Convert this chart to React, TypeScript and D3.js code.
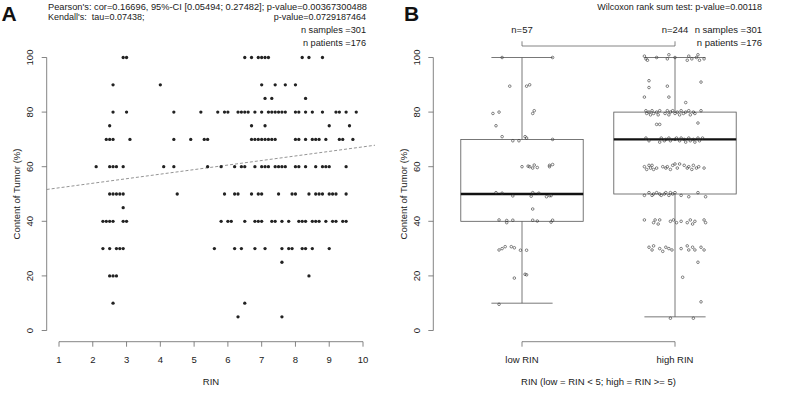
import React from "react";
import * as d3 from "d3";

// Panel A: tumor content rows, each with the RIN values of the samples on that row
const tumorRows = [100, 90, 85, 80, 75, 70, 60, 50, 45, 40, 30, 25, 20, 10, 5];
const rinByRow = [
  [2.9, 3.0, 6.5, 6.7, 6.9, 7.0, 7.1, 7.2, 8.2, 8.4, 8.8],
  [2.6, 4.0, 7.0, 7.4, 7.7, 8.0],
  [7.1, 7.3, 8.3],
  [2.6, 3.0, 4.4, 5.2, 5.7, 5.9, 6.0, 6.3, 6.4, 6.5, 6.6, 6.8, 7.0, 7.2, 7.3, 7.4, 7.5, 7.6, 7.7, 8.0, 8.1, 8.3, 8.5, 8.8, 9.2, 9.3, 9.5, 9.8],
  [2.5, 6.7, 7.1, 9.0, 9.6],
  [2.4, 2.5, 2.6, 3.1, 4.4, 4.9, 5.3, 5.4, 6.7, 6.8, 6.9, 7.0, 7.1, 7.2, 7.3, 7.4, 8.0, 8.1, 8.3, 8.5, 8.6, 8.7, 8.9, 9.3, 9.4, 9.7],
  [2.1, 2.5, 2.6, 2.7, 2.9, 4.1, 4.4, 5.4, 5.8, 6.2, 6.4, 6.5, 6.8, 7.0, 7.1, 7.2, 7.4, 7.5, 7.6, 7.7, 8.0, 8.1, 8.3, 8.6, 8.8, 8.9, 9.0, 9.5],
  [2.5, 2.6, 2.7, 2.8, 2.9, 4.5, 5.9, 6.2, 6.3, 6.7, 6.9, 7.0, 7.5, 7.9, 8.0, 8.4, 8.6, 8.7, 8.8, 9.0, 9.1, 9.2, 9.5],
  [2.9],
  [2.3, 2.4, 2.5, 2.6, 2.9, 3.0, 5.8, 6.0, 6.1, 6.5, 6.8, 6.9, 7.0, 7.3, 7.4, 7.6, 7.8, 8.1, 8.2, 8.3, 8.5, 8.6, 8.7, 8.9, 9.1, 9.2, 9.4, 9.5],
  [2.3, 2.5, 2.7, 2.8, 2.9, 5.6, 6.2, 6.4, 6.8, 7.1, 7.6, 7.8, 7.9, 8.2, 8.3, 8.5, 9.0],
  [7.6],
  [2.5, 2.6, 2.7, 8.4],
  [2.6, 6.5],
  [6.3, 7.6],
];

// fitted line: tumor = intercept + slope * RIN
const regIntercept = 50.6;
const regSlope = 1.667;

const rinTicks = [1, 2, 3, 4, 5, 6, 7, 8, 9, 10];
const tumorTicks = [0, 20, 40, 60, 80, 100];

const statsA = [
  "Pearson's: cor=0.16696, 95%-CI [0.05494; 0.27482]; p-value=0.00367300488",
  "Kendall's:  tau=0.07438;",
  "p-value=0.0729187464",
  "n samples =301",
  "n patients =176",
];

// Panel B
const groups = ["low RIN", "high RIN"];
const groupN = ["n=57", "n=244"];
const boxMin = [10, 5];
const boxQ1 = [40, 50];
const boxMedian = [50, 70];
const boxQ3 = [70, 80];
const boxMax = [100, 100];

// jittered points: [offset from group centre, tumor content]
const lowRinPoints = [
  [-0.13, 100], [0.2, 100], [-0.08, 89.5], [0.03, 89.5], [0.05, 90], [-0.19, 79.5], [-0.15, 80],
  [0.07, 79.5], [0.08, 80.5], [-0.17, 75], [-0.13, 71], [-0.06, 69.5], [-0.02, 69.5], [0.02, 71],
  [0.03, 70.5], [0.2, 70], [0.0, 60], [0.04, 60.2], [0.05, 60], [0.07, 59.5], [0.08, 60.6],
  [0.1, 59.7], [0.18, 60], [0.18, 60.5], [0.2, 60.8], [-0.17, 50.5], [-0.13, 50.3], [-0.06, 49.3],
  [0.06, 49.2], [0.07, 50.5], [0.11, 50.3], [0.16, 49], [0.18, 49.4], [0.19, 49.4], [0.07, 44.5],
  [-0.15, 40.5], [-0.1, 40.3], [-0.1, 39.5], [-0.06, 40.4], [0.07, 40.4], [0.1, 40.1], [0.19, 39.7],
  [0.2, 40.4], [-0.15, 29.5], [-0.13, 30], [-0.11, 30.7], [-0.07, 30.7], [-0.05, 30.3], [-0.01, 29.4],
  [0.03, 29.4], [-0.05, 19.2], [0.02, 20.6], [0.03, 20.4], [-0.15, 9.6],
];

const highRinPoints = [
  [-0.2, 100.5], [-0.19, 99.5], [-0.18, 99], [-0.12, 100], [-0.05, 99.5], [-0.04, 101], [0, 100],
  [0.08, 99], [0.09, 100.5], [0.11, 99.5], [0.14, 100], [0.15, 101], [0.16, 99], [0.19, 99.5],
  [-0.17, 91.5], [-0.17, 89], [-0.05, 89.5], [0.17, 91],
  [-0.2, 85.5], [-0.04, 85.5], [0.07, 83.5],
  [-0.19, 80.5], [-0.185, 79.5], [-0.17, 80], [-0.16, 79], [-0.15, 80.5], [-0.14, 79.5], [-0.12, 80],
  [-0.11, 79], [-0.1, 80.5], [-0.065, 79.5], [-0.05, 80.5], [-0.04, 79], [-0.03, 80], [-0.015, 80.5],
  [0, 79.5], [0.015, 80], [0.03, 79], [0.04, 80.5], [0.055, 79.5], [0.07, 80], [0.09, 80.5],
  [0.1, 79], [0.12, 80], [0.13, 79.5], [0.17, 80.5],
  [-0.12, 75.5], [-0.1, 75.5], [0.15, 76],
  [-0.19, 70.5], [-0.17, 69.5], [-0.1, 69], [-0.09, 70.5], [-0.07, 69.5], [-0.06, 70], [-0.04, 70.5],
  [-0.03, 69.5], [0, 70], [0.01, 70.5], [0.03, 69.5], [0.04, 70.5], [0.06, 70], [0.07, 69],
  [0.09, 70.5], [0.1, 69.5], [0.12, 70], [0.13, 69], [0.15, 70.5], [0.16, 69.5], [0.18, 70.5],
  [-0.2, 60], [-0.185, 59], [-0.17, 60.5], [-0.16, 59.5], [-0.15, 60.5], [-0.14, 59], [-0.12, 59.5],
  [-0.08, 60], [-0.06, 59.5], [-0.05, 60], [-0.03, 59], [-0.015, 60.5], [0, 61], [0.015, 59.5],
  [0.03, 61], [0.06, 60.5], [0.08, 59.5], [0.09, 60], [0.11, 59], [0.12, 60.5], [0.14, 59.5],
  [0.155, 60], [0.19, 59.5],
  [-0.2, 49.5], [-0.17, 50.5], [-0.15, 49.5], [-0.14, 50], [-0.12, 50.5], [-0.1, 50], [-0.09, 49.5],
  [-0.07, 50], [-0.06, 50.5], [-0.04, 49.5], [-0.03, 50.5], [-0.015, 50], [0, 50.5], [0.04, 49.5],
  [0.09, 49], [0.15, 50.5], [0.2, 49],
  [-0.2, 40.5], [-0.14, 39.5], [-0.13, 40.5], [-0.11, 39], [-0.1, 40.5], [-0.03, 40], [-0.01, 40.5],
  [0.01, 39.5], [0.04, 40], [0.08, 39.5], [0.1, 40.5], [0.115, 39], [0.13, 40], [0.19, 40.5], [0.2, 39.5],
  [-0.17, 30.5], [-0.15, 29.5], [-0.14, 31], [-0.1, 30], [-0.08, 29], [-0.06, 30.5], [-0.04, 30],
  [-0.02, 29.5], [0.04, 30], [0.08, 31], [0.09, 29.5], [0.115, 30.5], [0.13, 29.5], [0.17, 30.5],
  [0.19, 29.5],
  [0.15, 25], [0.05, 19.5], [0.17, 10.5], [-0.03, 4.5], [0.12, 4.5],
];

const statsB = ["Wilcoxon rank sum test: p-value=0.00118", "n samples =301", "n patients =176"];

const FONT = "'Liberation Sans', Arial, Helvetica, sans-serif";
const TXT = "#1a1a1a";
const AX = "#666";

export default function App() {
  const y = d3.scaleLinear().domain([0, 100]).range([330.5, 57.5]);
  const xA = d3.scaleLinear().domain([1, 10]).range([59, 363]);
  const xB = d3.scaleLinear().domain([1, 2]).range([522, 675]);

  const axA = 46.7;
  const axB = 433.3;
  const xAxisY = 341.7;
  const regX0 = xA.invert(axA);
  const regX1 = xA.invert(375);

  const scatter = tumorRows.flatMap((t, i) => rinByRow[i].map((r) => [r, t]));
  const boxW = (xB(2) - xB(1)) * 0.4;

  const yAxis = (ax: number) => (
    <g>
      <line x1={ax} x2={ax} y1={y(100)} y2={y(0)} stroke={AX} strokeWidth={0.8} />
      {tumorTicks.map((t) => (
        <g key={t}>
          <line x1={ax - 5} x2={ax} y1={y(t)} y2={y(t)} stroke={AX} strokeWidth={0.8} />
          <text
            transform={`translate(${ax - 13.5},${y(t)}) rotate(-90)`}
            textAnchor="middle"
            fontSize={9.5}
            fill={TXT}
          >
            {t}
          </text>
        </g>
      ))}
      <text
        transform={`translate(${ax - 26.5},${(y(0) + y(100)) / 2}) rotate(-90)`}
        textAnchor="middle"
        fontSize={9.5}
        fill={TXT}
      >
        Content of Tumor (%)
      </text>
    </g>
  );

  return (
    <svg
      width={787}
      height={400}
      style={{ position: "absolute", left: 0, top: 0, background: "#fff" }}
      fontFamily={FONT}
    >
      {/* Panel A */}
      <text x={1.5} y={20.5} fontSize={21} fontWeight="bold" fill="#111">A</text>
      <text x={48} y={9.8} fontSize={9} fill={TXT} textLength={319} lengthAdjust="spacingAndGlyphs">
        {statsA[0]}
      </text>
      <text x={48} y={20.3} fontSize={9} fill={TXT} style={{ whiteSpace: "pre" }}>{statsA[1]}</text>
      <text x={366} y={20.3} fontSize={9} fill={TXT} textAnchor="end">{statsA[2]}</text>
      <text x={366} y={33.3} fontSize={9.2} fill={TXT} textAnchor="end">{statsA[3]}</text>
      <text x={366} y={46} fontSize={9.2} fill={TXT} textAnchor="end">{statsA[4]}</text>

      {yAxis(axA)}
      <line x1={xA(1)} x2={xA(10)} y1={xAxisY} y2={xAxisY} stroke={AX} strokeWidth={0.8} />
      {rinTicks.map((t) => (
        <g key={t}>
          <line x1={xA(t)} x2={xA(t)} y1={xAxisY} y2={xAxisY + 5} stroke={AX} strokeWidth={0.8} />
          <text x={xA(t)} y={362.7} textAnchor="middle" fontSize={9.5} fill={TXT}>{t}</text>
        </g>
      ))}
      <text x={xA(5.5)} y={385} textAnchor="middle" fontSize={9.5} fill={TXT}>RIN</text>

      <line
        x1={xA(regX0)}
        x2={xA(regX1)}
        y1={y(regIntercept + regSlope * regX0)}
        y2={y(regIntercept + regSlope * regX1)}
        stroke="#888"
        strokeWidth={0.9}
        strokeDasharray="3 2"
      />
      {scatter.map(([r, t], i) => (
        <circle key={i} cx={xA(r)} cy={y(t)} r={1.65} fill="#222" />
      ))}

      {/* Panel B */}
      <text x={404} y={20.5} fontSize={21} fontWeight="bold" fill="#111">B</text>
      <text x={762} y={9.8} fontSize={9} fill={TXT} textAnchor="end">{statsB[0]}</text>
      <text x={762} y={33.3} fontSize={9.5} fill={TXT} textAnchor="end">{statsB[1]}</text>
      <text x={762} y={46} fontSize={9.5} fill={TXT} textAnchor="end">{statsB[2]}</text>
      {groupN.map((n, i) => (
        <text key={n} x={xB(i + 1)} y={33.3} fontSize={9.5} fill={TXT} textAnchor="middle">{n}</text>
      ))}
      <line x1={xB(1)} x2={xB(2)} y1={46} y2={46} stroke={AX} strokeWidth={0.8} />
      {groups.map((g, i) => (
        <line key={g} x1={xB(i + 1)} x2={xB(i + 1)} y1={41.3} y2={46} stroke={AX} strokeWidth={0.8} />
      ))}

      {yAxis(axB)}

      {groups.map((g, i) => {
        const cx = xB(i + 1);
        return (
          <g key={g}>
            <line x1={cx} x2={cx} y1={y(boxQ3[i])} y2={y(boxMax[i])} stroke="#555" strokeWidth={0.8} />
            <line x1={cx} x2={cx} y1={y(boxQ1[i])} y2={y(boxMin[i])} stroke="#555" strokeWidth={0.8} />
            <line x1={cx - boxW / 2} x2={cx + boxW / 2} y1={y(boxMax[i])} y2={y(boxMax[i])} stroke="#555" strokeWidth={0.8} />
            <line x1={cx - boxW / 2} x2={cx + boxW / 2} y1={y(boxMin[i])} y2={y(boxMin[i])} stroke="#555" strokeWidth={0.8} />
            <rect
              x={cx - boxW}
              y={y(boxQ3[i])}
              width={boxW * 2}
              height={y(boxQ1[i]) - y(boxQ3[i])}
              fill="none"
              stroke="#555"
              strokeWidth={0.8}
            />
            <line x1={cx - boxW} x2={cx + boxW} y1={y(boxMedian[i])} y2={y(boxMedian[i])} stroke="#111" strokeWidth={2.4} />
          </g>
        );
      })}

      {[lowRinPoints, highRinPoints].map((pts, gi) =>
        pts.map(([dx, v], i) => (
          <circle
            key={`${gi}-${i}`}
            cx={xB(gi + 1 + dx)}
            cy={y(v)}
            r={1.3}
            fill="none"
            stroke="#333"
            strokeWidth={0.6}
          />
        ))
      )}

      <line x1={xB(1)} x2={xB(2)} y1={xAxisY} y2={xAxisY} stroke={AX} strokeWidth={0.8} />
      {groups.map((g, i) => (
        <g key={g}>
          <line x1={xB(i + 1)} x2={xB(i + 1)} y1={xAxisY} y2={xAxisY + 5} stroke={AX} strokeWidth={0.8} />
          <text x={xB(i + 1)} y={362.7} textAnchor="middle" fontSize={9.5} fill={TXT}>{g}</text>
        </g>
      ))}
      <text x={(xB(1) + xB(2)) / 2} y={385} textAnchor="middle" fontSize={9.5} fill={TXT}>
        RIN (low = RIN &lt; 5; high = RIN &gt;= 5)
      </text>
    </svg>
  );
}
